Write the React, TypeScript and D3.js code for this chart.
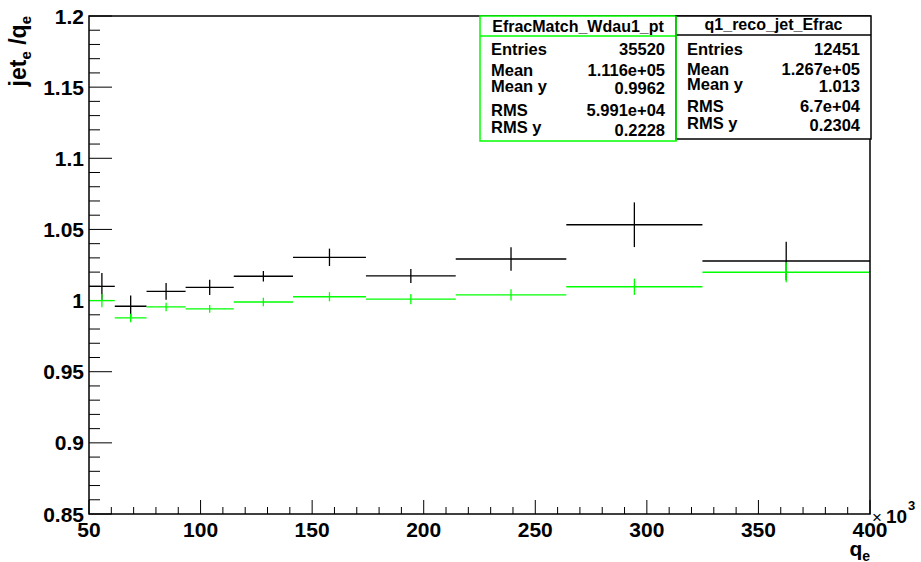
import React from 'react';
import * as d3 from 'd3';

// bin edges along q_e (x10^3)
const binEdges = [50, 61.56, 75.79, 93.3, 114.87, 141.42, 174.11, 214.35, 263.9, 324.9, 400];

// q1_reco_jet_Efrac (black)
const recoMean = [1.0100, 0.9960, 1.0065, 1.0093, 1.0171, 1.0304, 1.0173, 1.0292, 1.0533, 1.0278];
const recoErr = [0.0094, 0.0076, 0.0059, 0.0053, 0.0037, 0.0061, 0.0049, 0.0082, 0.0157, 0.0136];

// EfracMatch_Wdau1_pt (green)
const matchMean = [1.0000, 0.9878, 0.9955, 0.9941, 0.9990, 1.0027, 1.0010, 1.0040, 1.0097, 1.0199];
const matchErr = [0.0047, 0.0030, 0.0030, 0.0027, 0.0030, 0.0032, 0.0036, 0.0040, 0.0057, 0.0070];

const xTicks = [50, 100, 150, 200, 250, 300, 350, 400];
const yTicks = [0.85, 0.9, 0.95, 1, 1.05, 1.1, 1.15, 1.2];
const yTickLabels = ['0.85', '0.9', '0.95', '1', '1.05', '1.1', '1.15', '1.2'];

const statLabels = ['Entries', 'Mean', 'Mean y', 'RMS', 'RMS y'];
const matchStats = ['35520', '1.116e+05', '0.9962', '5.991e+04', '0.2228'];
const recoStats = ['12451', '1.267e+05', '1.013', '6.7e+04', '0.2304'];

const W = 921;
const H = 562;
const frame = { left: 89, right: 870, top: 16, bottom: 514 };
const font = '"Liberation Sans", Arial, Helvetica, sans-serif';
const GREEN = '#00ff00';

const x = d3.scaleLinear().domain([50, 400]).range([frame.left, frame.right]);
const y = d3.scaleLinear().domain([0.85, 1.2]).range([frame.bottom, frame.top]);

function Profile({ mean, err, color }: { mean: number[]; err: number[]; color: string }) {
  return (
    <g stroke={color} strokeWidth={1.3} fill="none">
      {mean.map((m, i) => {
        const x0 = x(binEdges[i]);
        const x1 = x(binEdges[i + 1]);
        const xc = x((binEdges[i] + binEdges[i + 1]) / 2);
        return (
          <g key={i}>
            <line x1={x0} x2={x1} y1={y(m)} y2={y(m)} />
            <line x1={xc} x2={xc} y1={y(m - err[i])} y2={y(m + err[i])} />
          </g>
        );
      })}
    </g>
  );
}

function StatBox(props: {
  x0: number; x1: number; bottom: number; sep: number; title: string; titleY: number;
  values: string[]; labelY: number[]; valueY: number[]; color: string;
}) {
  const { x0, x1, bottom, sep, title, titleY, values, labelY, valueY, color } = props;
  return (
    <g fontFamily={font} fontWeight="bold" fill="#000">
      <rect x={x0} y={frame.top} width={x1 - x0} height={bottom - frame.top} fill="#fff" stroke={color} strokeWidth={1.5} />
      <line x1={x0} x2={x1} y1={sep} y2={sep} stroke={color} strokeWidth={1.5} />
      <text x={(x0 + x1) / 2} y={titleY} textAnchor="middle" fontSize={16}>{title}</text>
      {statLabels.map((l, i) => (
        <text key={l} x={x0 + 11} y={labelY[i]} fontSize={16.5}>{l}</text>
      ))}
      {values.map((v, i) => (
        <text key={i} x={x1 - 11} y={valueY[i]} textAnchor="end" fontSize={16.5}>{v}</text>
      ))}
    </g>
  );
}

export default function App() {
  const minorX = d3.range(50, 401, 10);
  const minorY = d3.range(0, 36).map((i) => 0.85 + i * 0.01);

  return (
    <svg width={W} height={H} style={{ position: 'absolute', left: 0, top: 0, background: '#fff' }}>
      <rect width={W} height={H} fill="#fff" />

      {/* ticks */}
      <g stroke="#000" strokeWidth={1}>
        {minorX.map((v) => (
          <line key={'mx' + v} x1={x(v)} x2={x(v)} y1={frame.bottom} y2={frame.bottom - (v % 50 === 0 ? 14 : 7)} />
        ))}
        {minorY.map((v, i) => (
          <line key={'my' + i} x1={frame.left} x2={frame.left + (i % 5 === 0 ? 23 : 11)} y1={y(v)} y2={y(v)} />
        ))}
      </g>

      <Profile mean={recoMean} err={recoErr} color="#000" />
      <Profile mean={matchMean} err={matchErr} color={GREEN} />

      <rect x={frame.left} y={frame.top} width={frame.right - frame.left} height={frame.bottom - frame.top}
        fill="none" stroke="#000" strokeWidth={1.5} />

      {/* tick labels */}
      <g fontFamily={font} fontWeight="bold" fontSize={21} fill="#000">
        {xTicks.map((v) => (
          <text key={v} x={x(v)} y={537} textAnchor="middle">{v}</text>
        ))}
        {yTicks.map((v, i) => (
          <text key={v} x={84} y={y(v) + 7.5} textAnchor="end">{yTickLabels[i]}</text>
        ))}
      </g>

      {/* x10^3 */}
      <g fontFamily={font} fill="#000">
        <text x={872} y={523} fontSize={17}>×</text>
        <text x={886} y={523} fontSize={19} fontWeight="bold">10</text>
        <text x={908} y={510} fontSize={13} fontWeight="bold">3</text>
      </g>

      {/* axis titles */}
      <g fontFamily={font} fontWeight="bold" fill="#000">
        <text x={870} y={556} textAnchor="end" fontSize={21}>
          q<tspan fontSize={14} dy={5}>e</tspan>
        </text>
        <text transform="translate(26,16) rotate(-90)" textAnchor="end" fontSize={23}>
          jet<tspan fontSize={15} dy={5}>e</tspan><tspan dy={-5}> /q</tspan><tspan fontSize={15} dy={5}>e</tspan>
        </text>
      </g>

      <StatBox x0={480} x1={676} bottom={141} sep={36} title="EfracMatch_Wdau1_pt" titleY={31.5}
        values={matchStats} labelY={[55, 75.5, 91.5, 116, 132.5]} valueY={[55, 75.5, 93.5, 116, 136]} color={GREEN} />
      <StatBox x0={676} x1={871} bottom={139} sep={35} title="q1_reco_jet_Efrac" titleY={30}
        values={recoStats} labelY={[54.5, 75, 90, 111.5, 128.5]} valueY={[54.5, 75, 92, 111.5, 130.5]} color="#000" />
      <line x1={676} x2={676} y1={frame.top} y2={141} stroke={GREEN} strokeWidth={1.5} />
    </svg>
  );
}
